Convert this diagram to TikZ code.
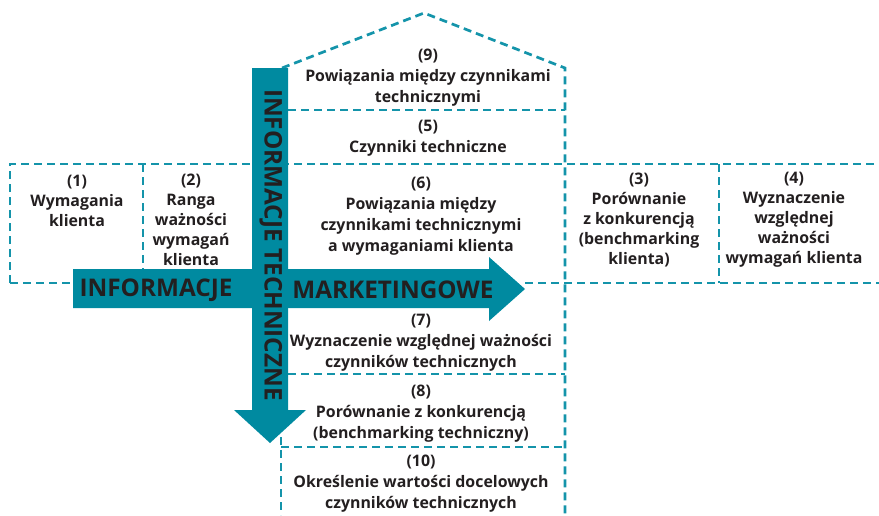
\documentclass[tikz,border=0pt]{standalone}
\usepackage{fontspec}
\setmainfont{Open Sans}
\definecolor{arrowc}{RGB}{0,138,160}
\definecolor{dashc}{RGB}{20,148,170}
\definecolor{txtc}{RGB}{35,31,32}
\tikzset{
  dl/.style={draw=dashc, line width=2.7pt, dash pattern=on 8pt off 5pt},
  bigarrow/.style={fill=arrowc},
  txt/.style={font=\bfseries\fontsize{15.9}{21.1}\selectfont, align=center, text=txtc, inner sep=0pt},
  txtrow/.style={font=\bfseries\fontsize{15.9}{19.9}\selectfont, align=center, text=txtc, inner sep=0pt},
  bigtxt/.style={font=\bfseries\fontsize{24.3}{26}\selectfont, text=txtc, inner sep=0pt}
}
\begin{document}
\begin{tikzpicture}[x=1pt,y=-1pt]
\useasboundingbox (0,0) rectangle (879,515);
% dashed frame
\draw[dl] (282,68) -- (424,13) -- (565,68) -- (565,515);
\draw[dl] (288,110) -- (565,110);
\draw[dl] (10,283) -- (10,164) -- (879,164);
\draw[dl] (143,164) -- (143,269);
\draw[dl] (10,283) -- (73,283);
\draw[dl] (525,283) -- (879,283);
\draw[dl] (719,164) -- (719,283);
\draw[dl] (288,374) -- (565,374);
\draw[dl] (281,437) -- (281,515);
\draw[dl] (281,447) -- (565,447);
% arrows
\fill[bigarrow] (73,269) -- (489,269) -- (489,257) -- (525,289) -- (489,321) -- (489,308) -- (73,308) -- cycle;
\fill[bigarrow] (252,68) -- (288,68) -- (288,410) -- (306,410) -- (270,443) -- (234,410) -- (252,410) -- cycle;
% arrow labels
\node[bigtxt] (im) at (156,290) {INFORMACJE};
\node[bigtxt] (mk) at (393,290) {MARKETINGOWE};
\node[bigtxt, rotate=-90] (it) at (271,245) {INFORMACJE TECHNICZNE};
% texts
\node[txt] (t9) at (428,77.5) {(9)\\Powiązania między czynnikami\\technicznymi};
\node[txt] (t5) at (428,138.5) {(5)\\Czynniki techniczne};
\node[txt] (t6) at (421,216) {(6)\\Powiązania między\\czynnikami technicznymi\\a wymaganiami klienta};
\node[txtrow] (t1) at (77,200.5) {(1)\\Wymagania\\klienta};
\node[txtrow] (t2) at (191,220) {(2)\\Ranga\\ważności\\wymagań\\klienta};
\node[txtrow] (t3) at (639,220) {(3)\\Porównanie\\z konkurencją\\(benchmarking\\klienta)};
\node[txtrow] (t4) at (794,220) {(4)\\Wyznaczenie\\względnej\\ważności\\wymagań klienta};
\node[txt] (t7) at (421,342.5) {(7)\\Wyznaczenie względnej ważności\\czynników technicznych};
\node[txt] (t8) at (421,413.5) {(8)\\Porównanie z konkurencją\\(benchmarking techniczny)};
\node[txt] (t10) at (421,483.5) {(10)\\Określenie wartości docelowych\\czynników technicznych};
\end{tikzpicture}
\end{document}
